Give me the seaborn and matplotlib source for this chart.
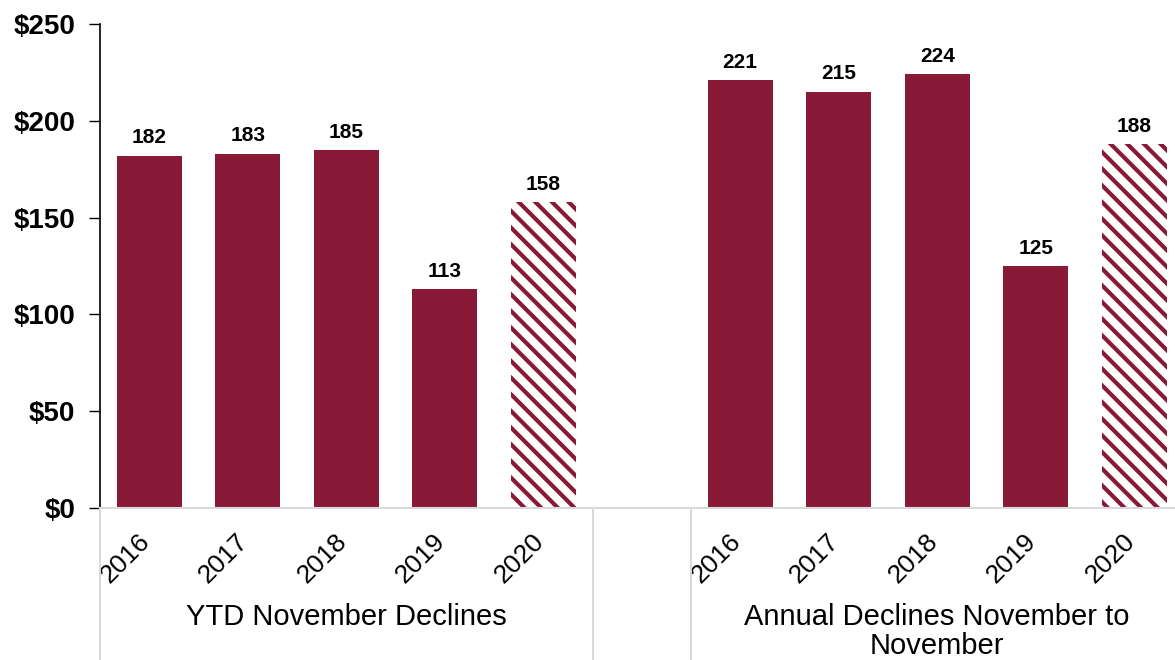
import numpy as np
import pandas as pd
import matplotlib
matplotlib.use("Agg")
import matplotlib.pyplot as plt
import matplotlib.transforms as mtransforms
import seaborn as sns

# Two groups of yearly values, separated by an empty slot
years = ["2016", "2017", "2018", "2019", "2020"]
ytd_values = [182, 183, 185, 113, 158]
annual_values = [221, 215, 224, 125, 188]
group_labels = ["YTD November Declines", "Annual Declines November to\nNovember"]
y_ticks = [0, 50, 100, 150, 200, 250]

bar_color = "#891A37"
sep_color = "#D9D9D9"

ytd_slots = [f"ytd_{y}" for y in years]
annual_slots = [f"ann_{y}" for y in years]
spacer = "gap"
order = ytd_slots + [spacer] + annual_slots

df = pd.DataFrame({
    "slot": ytd_slots + annual_slots,
    "value": ytd_values + annual_values,
})

sns.set_style("white")
plt.rcParams["font.family"] = ["Liberation Sans", "DejaVu Sans"]
plt.rcParams["hatch.linewidth"] = 3.0
for key in ["text.color", "xtick.color", "ytick.color", "axes.labelcolor"]:
    plt.rcParams[key] = "black"

W, H = 1175, 660
fig = plt.figure(figsize=(W / 100, H / 100), dpi=100)
ax = fig.add_axes([100 / W, 152 / H, 1083.5 / W, 484 / H])

sns.barplot(data=df, x="slot", y="value", order=order, color=bar_color,
            saturation=1, width=0.66, ax=ax, errorbar=None)

# Projected 2020 bars are drawn as diagonal stripes
hatched_slots = {order.index("ytd_2020"), order.index("ann_2020")}
for c in ax.containers:
    for p in c.patches:
        slot = int(round(p.get_x() + p.get_width() / 2))
        p.set_linewidth(0)
        if slot in hatched_slots:
            p.set_facecolor("white")
            p.set_edgecolor(bar_color)
            p.set_hatch("\\" * 2)

for c in ax.containers:
    ax.bar_label(c, labels=[f"{v:.0f}" for v in c.datavalues], padding=6,
                 fontsize=15, fontweight="bold", color="black")

ax.set_xlim(-0.5, len(order) - 0.5)
ax.set_ylim(0, 250)
ax.set_yticks(y_ticks, [f"${v}" for v in y_ticks])
ax.set_xticks(range(len(order)), years + [""] + years)
ax.set_xlabel("")
ax.set_ylabel("")

ax.tick_params(axis="y", which="both", left=True, direction="out", length=8,
               width=1, color="black", pad=10, labelsize=20, labelcolor="black")
for t in ax.get_yticklabels():
    t.set_fontweight("bold")

ax.tick_params(axis="x", length=0, pad=15, labelsize=19, labelcolor="black")
shift = mtransforms.ScaledTranslation(5 / 100, 0, fig.dpi_scale_trans)
for t in ax.get_xticklabels():
    t.set_rotation(45)
    t.set_ha("right")
    t.set_transform(t.get_transform() + shift)

for side in ["top", "right"]:
    ax.spines[side].set_visible(False)
ax.spines["left"].set_color("black")
ax.spines["left"].set_linewidth(1.2)
ax.spines["bottom"].set_color(sep_color)
ax.spines["bottom"].set_linewidth(1.5)

# Vertical separators framing each group below the axis
xtrans = ax.get_xaxis_transform()
for xs in [-0.5, 4.5, 5.5, 10.5]:
    ax.plot([xs, xs], [0, -0.4], transform=xtrans, color=sep_color,
            lw=1.5, clip_on=False)

for cx, label in zip([2, 8], group_labels):
    ax.text(cx, -0.196, label, transform=xtrans, ha="center", va="top",
            fontsize=21, linespacing=1.06, color="black")

fig.savefig("out.png", dpi=100)
